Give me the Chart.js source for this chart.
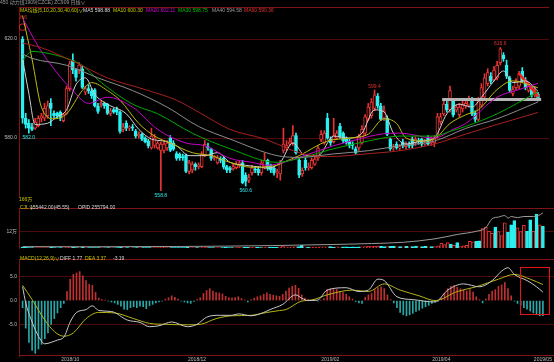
<!DOCTYPE html>
<html>
<head>
<meta charset="utf-8">
<script src="https://cdn.jsdelivr.net/npm/chart.js@4.4.1/dist/chart.umd.min.js"></script>
<style>
  html, body { margin: 0; padding: 0; background: #000; }
  #wrap { position: relative; width: 554px; height: 362px; overflow: hidden; background: #000;
          font-family: 'Liberation Sans', 'Noto Sans CJK SC', sans-serif; }
  #wrap canvas { position: absolute; left: 0; }
  .t { position: absolute; white-space: nowrap; font-size: 5px; line-height: 6px; }
  #macd-box { position: absolute; left: 520px; top: 267px; width: 28px; height: 46px;
              border: 1.5px solid #e81414; }
</style>
</head>
<body>
<div id="wrap">
  <canvas id="price-chart" width="554" height="203" style="top:0"></canvas>
  <canvas id="vol-chart" width="554" height="51" style="top:203px"></canvas>
  <canvas id="macd-chart" width="554" height="108" style="top:254px"></canvas>

  <div class="t" style="left:0;top:-1px;color:#9a9a9a">450 动力煤1909(CZCE) ZC909 日线∨</div>
  <div class="t" style="left:20px;top:7px;color:#c8c800">MA均线(5,10,20,30,40,60)∨</div>
  <div class="t" style="left:83px;top:7px;color:#d8d8d8">MA5 598.88</div>
  <div class="t" style="left:113px;top:7px;color:#c8c800">MA10 600.30</div>
  <div class="t" style="left:146px;top:7px;color:#d400d4">MA20 602.11</div>
  <div class="t" style="left:178px;top:7px;color:#00c000">MA30 598.75</div>
  <div class="t" style="left:212px;top:7px;color:#9a9a9a">MA40 594.58</div>
  <div class="t" style="left:244px;top:7px;color:#e03030">MA60 590.36</div>
  <div class="t" style="left:20px;top:13.5px;color:#e03030">8.6</div>

  <div class="t" style="left:19px;top:196px;color:#c8c800">166万</div>
  <div class="t" style="left:20px;top:204px;color:#c8c800">CJL∨</div>
  <div class="t" style="left:30px;top:204px;color:#d8d8d8">155442.00(45.55)</div>
  <div class="t" style="left:78px;top:204px;color:#d8d8d8">OPID 255794.00</div>

  <div class="t" style="left:20px;top:255px;color:#c8c800">MACD(12,26,9)∨</div>
  <div class="t" style="left:60px;top:255px;color:#d8d8d8">DIFF 1.77</div>
  <div class="t" style="left:85px;top:255px;color:#c8c800">DEA 3.37</div>
  <div class="t" style="left:113px;top:255px;color:#d8d8d8">-3.19</div>

  <div id="macd-box"></div>
</div>

<script>
// ---- data (daily bars, Sep 2018 - May 2019) ----
const dateTicks = [15, 55, 97, 132, 164];
const dateLabels = ['2018/10', '2018/12', '2019/02', '2019/04', '2019/05'];
const priceTicks = [580, 620];
const volTicks = [12];
const macdTicks = [5, 0, -5];

const openP = [
  620, 588, 586, 584.5, 584, 585, 588, 588, 589, 594,
  590, 590, 590.5, 587, 590, 600, 611.5, 607.5, 607.5, 608,
  598.5, 600, 599, 599.5, 593, 593.5, 594, 593.7, 590, 591.5,
  591.5, 590.6, 583.5, 586, 584, 584.5, 582.7, 581, 581.6, 580,
  578.8, 576, 577, 576, 575, 575, 576, 580, 578, 573.7,
  573.5, 572.5, 573, 566.5, 567, 569.5, 568.5, 568.5, 573, 576.5,
  575.7, 572, 570, 571.5, 571.8, 568.5, 568, 567.5, 568, 569,
  570, 565, 563, 566, 567.5, 567.5, 566, 568.5, 571, 569,
  567.8, 566, 565.5, 575, 576, 577.5, 578, 581, 571, 565.5,
  571, 568, 568, 569.5, 572, 579.5, 578, 588, 579.6, 578.5,
  580, 584.7, 582, 579.6, 578.8, 577.5, 575.7, 576, 578, 582,
  587.5, 589, 592, 597, 593, 588, 588, 579.6, 576, 577.5,
  576, 578.5, 576.5, 577.5, 579.6, 578, 579, 579.6, 577.5, 580,
  578, 578, 580.8, 586.5, 589.8, 593.7, 591.4, 595, 591.4, 589.5,
  591.8, 593, 593.3, 595.3, 590, 587.5, 593.3, 596.5, 602, 605,
  603.5, 604.3, 610.5, 613.5, 609.5, 604.3, 598, 600.4, 601, 607,
  603.5, 599.2, 600.4, 597.3, 597.7
];
const highP = [
  621, 590, 587.5, 586, 588, 589, 590, 594, 595, 596,
  591, 590.5, 591, 590, 601, 611, 614, 608, 610.5, 609,
  601, 601.5, 600, 600, 594, 595, 594.5, 594, 592, 592,
  592.5, 591, 586, 587, 585, 585.5, 583.5, 582.5, 582, 580.5,
  579.5, 584, 581.5, 579, 578.5, 579, 579, 581, 579, 574.5,
  574, 573.5, 573.5, 571, 570.5, 570, 570, 574.5, 579, 578,
  576, 573, 573, 572.5, 572.5, 569, 568.5, 569.5, 570.5, 571,
  571, 566, 565.5, 569, 568.5, 568.5, 571, 574, 571.5, 569.5,
  568.5, 567.5, 571, 584, 579, 580, 585, 582, 572, 568,
  572, 570, 572, 572.5, 577, 583, 583, 590, 580.5, 588,
  583, 586, 582.5, 580.5, 579.5, 578.5, 576.5, 581.5, 585, 589.5,
  594, 596, 599.4, 598, 594, 593, 589, 580, 577.5, 578.5,
  577.5, 579.5, 578.5, 578.5, 580.5, 580.5, 580, 580, 579.5, 581,
  580.5, 581, 590, 590, 595, 595, 601, 596, 593.5, 594,
  595, 596, 597, 596.5, 591, 596.5, 602, 606, 608, 606.5,
  609, 611, 616.6, 614.5, 611.5, 605, 601, 604, 607, 608.5,
  604.5, 602.5, 601.5, 600.5, 598.5
];
const lowP = [
  586, 584, 582, 583, 583.5, 584.5, 586.5, 587, 588, 585,
  588, 588, 587, 586.5, 589.5, 599, 606, 603, 606, 600,
  597.5, 598, 596, 592.5, 590, 592.5, 592, 589.5, 589, 590,
  589.5, 582, 582.5, 583, 583, 583, 580, 580, 579, 578,
  576, 575.5, 576, 575.5, 558.8, 574, 575, 574.5, 575, 571,
  571, 571, 566, 565.5, 566, 567, 567.5, 568, 572.5, 575,
  571, 571, 569.5, 570, 567.5, 566, 566, 567, 567.5, 568,
  561.5, 560.6, 562, 565, 566, 565, 565, 567.5, 567, 566,
  565, 564, 563, 574, 575, 577, 577, 573.5, 564, 564.5,
  567, 567, 567.5, 569, 571, 578.5, 577.5, 579.5, 577, 578,
  579.5, 580, 578, 577.5, 576, 575.5, 573.5, 575, 577.5, 581,
  587, 588, 591, 592, 587, 587, 581, 575, 575, 575.5,
  575, 576, 575.5, 576, 576, 577, 577.5, 576.5, 577, 577,
  577, 576.5, 580, 585.5, 589, 590.5, 590.5, 588.5, 590.5, 588.5,
  590.5, 592, 592.5, 589, 586.5, 587, 592.5, 595.5, 601, 602,
  603, 603.5, 609.5, 611, 604, 598.5, 597, 599.5, 600, 602.5,
  599.5, 598.5, 596.5, 596.5, 595
];
const closeP = [
  588, 585.5, 584, 583.5, 586.5, 588, 589, 592, 593, 592,
  589, 589, 588, 589.5, 600, 610, 607.5, 604.5, 609.5, 600.5,
  600, 599, 597, 593, 590.8, 594, 593, 590, 591, 590.5,
  590.5, 582.7, 584.5, 584, 584.5, 584, 580.8, 581.5, 579.6, 578.5,
  576.9, 580.8, 580, 578, 577.6, 577.6, 578, 575, 575.5, 571.8,
  572, 572, 566.5, 570, 569.5, 568.5, 569, 573.5, 577.5, 576,
  571.8, 572.5, 572, 571, 568.2, 567, 567, 568.5, 569.5, 570,
  562, 562.5, 564, 568, 567, 566, 570, 571, 568, 567,
  565.9, 566.5, 570, 577.6, 577, 578.5, 581, 574, 565, 567,
  568, 568.5, 571, 571.5, 576, 581.5, 582, 580, 578, 581,
  582, 580.8, 579, 578, 577, 577, 574, 580.5, 583.5, 588.6,
  592.5, 594.5, 597.5, 593, 587.5, 591, 581.5, 575.7, 576.5, 576,
  576.5, 577, 577.5, 577, 577, 579.5, 578.5, 577.5, 578, 577.5,
  579.5, 580, 588.6, 588.6, 593.7, 591.4, 599.2, 589.4, 592.5, 592.5,
  593.3, 594, 595.7, 589.8, 587.5, 595.3, 600.4, 604.3, 606.5, 603,
  607.5, 609.4, 616, 612, 605, 599.2, 599.6, 603, 606, 603.1,
  600.4, 601.2, 597.3, 599.2, 595.7
];

// moving averages, read as [bar index, price]
const ma5Pts = [[0, 612], [2, 598], [4, 585.5], [8, 586], [11, 588.6], [14, 591.4], [17, 601.6], [20, 604.3],
  [23, 597.6], [27, 593.7], [33, 589.8], [37, 583.5], [41, 579.6], [45, 578.8], [49, 576.9], [53, 572.9],
  [58, 572.9], [62, 574.1], [66, 570.2], [71, 569], [76, 568.2], [78, 567.8], [82, 570.2], [86, 578],
  [90, 572.9], [94, 572.9], [99, 580.8], [104, 580], [108, 582], [112, 591.4], [115, 590.6], [118, 582],
  [122, 577.6], [127, 578.8], [131, 580], [135, 589.8], [139, 593.7], [143, 592.5], [146, 596.5],
  [150, 603.1], [153, 607.1], [156, 602.4], [160, 603.1], [164, 598.88]];
const ma10Pts = [[0, 629.5], [3, 612], [6, 592.5], [10, 587.8], [14, 589.8], [19, 599.2], [22, 602.4],
  [27, 599.2], [31, 595.3], [37, 585.9], [42, 580.8], [47, 578], [54, 574.1], [60, 572.9], [66, 570.2],
  [73, 568.2], [81, 569], [83, 570.2], [88, 572.9], [97, 578.8], [104, 580], [110, 581.6], [115, 587.8],
  [119, 585.9], [122, 580], [127, 578.8], [131, 579.6], [136, 585.9], [141, 589.4], [145, 591.4],
  [151, 599.6], [156, 603.1], [161, 601.6], [164, 600.3]];
const ma20Pts = [[0, 628.5], [5, 617], [11, 606.3], [16, 599.2], [21, 594], [27, 596.5], [35, 592.5],
  [43, 583.5], [52, 578], [58, 576.9], [66, 571.8], [73, 570.2], [78, 569], [83, 570.2], [88, 572.2],
  [99, 576.9], [107, 579.6], [114, 581.6], [120, 582], [131, 580], [137, 583.5], [141, 585.9],
  [151, 596.5], [158, 599.6], [164, 602.11]];
const ma30Pts = [[0, 611.5], [3, 615], [7, 614.5], [14, 612.2], [19, 609.4], [24, 603.5], [35, 593.7],
  [43, 589.8], [54, 582], [66, 575.7], [81, 570.2], [88, 571.8], [99, 575.7], [110, 578.8], [120, 580.8],
  [131, 580.8], [136, 582.7], [141, 584.7], [151, 589.8], [164, 598.75]];
const ma40Pts = [[0, 614], [3, 612.2], [14, 609.4], [24, 604.3], [35, 599.2], [46, 592.5], [56, 584.7],
  [66, 579.6], [81, 572.9], [88, 572.2], [99, 573.6], [110, 574.9], [120, 576.9], [131, 578.8],
  [141, 583.9], [151, 587.8], [164, 594.58]];
const ma60Pts = [[0, 618.4], [6, 616.5], [14, 612.2], [17, 610.5], [27, 604.3], [40, 599.2], [49, 595.3],
  [56, 590.5], [66, 583.5], [77, 579.6], [81, 577.6], [88, 574.1], [97, 572.5], [110, 573.7],
  [120, 574.9], [131, 577.6], [141, 581.6], [151, 585.5], [164, 590.36]];

// drawn annotations on the price panel
const supportLine = [[133.5, 595.6], [165, 595.6]];
const trendLine = [[157.8, 606.3], [164.2, 596.7]];
const markerPt = [[0, 624.8]];

// volume (万手) and open interest
const volume = [
  0.6, 0.4, 0.35, 0.3, 0.25, 0.3, 0.25, 0.3, 0.35, 0.4,
  0.25, 0.2, 0.25, 0.2, 0.45, 0.5, 0.45, 0.3, 0.35, 0.4,
  0.3, 0.25, 0.3, 0.35, 0.3, 0.25, 0.2, 0.3, 0.25, 0.2,
  0.25, 0.45, 0.3, 0.25, 0.2, 0.2, 0.3, 0.25, 0.3, 0.25,
  0.3, 0.35, 0.3, 0.25, 0.5, 0.3, 0.3, 0.35, 0.3, 0.35,
  0.3, 0.25, 0.4, 0.35, 0.3, 0.25, 0.3, 0.35, 0.4, 0.3,
  0.35, 0.3, 0.35, 0.3, 0.4, 0.35, 0.3, 0.35, 0.4, 0.35,
  0.5, 0.45, 0.4, 0.45, 0.4, 0.35, 0.5, 0.55, 0.6, 0.55,
  0.6, 0.5, 1.5, 0.9, 0.7, 0.8, 0.9, 1.0, 1.9, 0.8,
  0.7, 0.6, 0.7, 0.6, 0.8, 0.9, 0.8, 1.1, 0.7, 0.8,
  0.7, 0.9, 0.8, 0.7, 0.9, 0.7, 0.8, 0.9, 1.0, 1.2,
  1.1, 1.2, 1.3, 1.2, 1.1, 1.0, 1.2, 1.3, 0.9, 1.0,
  0.9, 1.2, 0.9, 1.0, 1.3, 0.9, 1.0, 1.2, 0.9, 1.1,
  1.0, 1.6, 3.3, 2.5, 3.9, 2.9, 2.0, 3.9, 1.0, 1.5,
  1.9, 4.8, 4.4, 4.7, 5.2, 13.9, 15.0, 12.0, 10.5, 15.0,
  11.7, 9.0, 18.1, 11.3, 16.7, 19.6, 14.4, 11.7, 16.3, 12.0,
  20.2, 12.0, 24.3, 16.7, 15.5
];
const opidPts = [[0, 1.0], [20, 0.9], [50, 1.1], [78, 1.7], [95, 2.4], [110, 3.2], [120, 4.1], [130, 6.6],
  [137, 9.7], [143, 12], [146, 14.5], [148, 21], [150, 22.2], [152, 23.3], [153, 21.4], [154, 22.6],
  [156, 21.8], [158, 22.6], [161, 22.6], [162.6, 23.3], [164, 25.2]];

// MACD(12,26,9)
const macdHist = [
  -1.5, -5.8, -8.8, -10.5, -11.1, -10.2, -9.2, -8.0, -6.8, -5.0,
  -3.8, -2.6, -1.5, -0.6, 1.9, 4.5, 5.5, 5.8, 6.1, 5.2,
  4.2, 3.4, 3.2, 1.7, 0.5, 0.2, 0.1, -0.1, -0.3, -0.5,
  -0.8, -1.2, -1.8, -1.9, -1.5, -1.3, -1.5, -1.2, -1.3, -1.7,
  -1.1, -0.8, -0.5, -0.3, -0.1, 0.3, 0.6, 1.0, 0.7, 0.3,
  -0.1, -0.3, -0.5, -0.6, -0.2, 0.2, 0.6, 1.5, 2.1, 2.5,
  2.0, 1.7, 1.6, 1.4, 0.9, 0.6, 0.5, 0.6, 0.8, 0.4,
  0.1, -0.3, 0.2, 0.5, 0.8, 1.0, 1.3, 1.6, 1.3, 1.1,
  1.0, 0.9, 1.3, 2.0, 2.6, 3.0, 3.2, 2.6, 1.2, 0.5,
  0.2, 0.1, 0.05, -0.1, 0.1, 0.4, 2.3, 2.5, 2.3, 2.4,
  1.9, 1.7, 1.3, 0.8, 0.3, -0.2, -0.5, -0.6, 0.7, 1.2,
  1.5, 2.3, 2.7, 2.9, 2.5, 1.2, 0.2, -0.5, -1.5, -2.5,
  -3.0, -3.2, -3.0, -2.7, -2.3, -2.0, -1.6, -1.3, -1.0, -0.6,
  -0.3, -0.1, 0.5, 1.5, 2.5, 3.0, 3.2, 2.8, 2.5, 2.2,
  2.0, 2.3, 1.8, 0.8, 0.2, -0.5, 0.3, 1.3, 2.0, 2.3,
  3.0, 3.3, 3.8, 2.5, 1.0, -0.1, -0.6, -1.0, -1.5, -1.8,
  -2.2, -2.6, -3.0, -3.2, -3.19
];
const diffPts = [[0, 2.9], [1, -0.5], [3, -4.5], [5, -7.5], [7, -9.1], [9, -8.8], [11, -8.3], [13, -7.7],
  [15, -4.5], [17, -2.5], [20, -1.9], [22, -1.1], [24, -2.1], [28, -2.3], [33, -4.1], [37, -4.6],
  [40, -5.5], [43, -5.3], [47, -4.5], [52, -5.5], [55, -5.0], [58, -3.5], [62, -3.1], [66, -3.1],
  [68, -2.8], [72, -3.2], [76, -2.5], [78, -1.9], [82, -0.8], [86, 1.2], [88, 0.5], [90, 0], [93, 0.1],
  [96, 2.2], [102, 2.7], [106, 1.9], [109, 2.2], [112, 4.5], [114, 4.2], [118, 0.8], [123, 0.2],
  [130, -0.3], [134, 2.2], [139, 3.5], [144, 2.9], [148, 4.2], [151, 6.2], [153, 6.9], [155, 5.5],
  [159, 4.2], [162, 2.9], [164, 1.77]];
const deaPts = [[0, 3.2], [3, 0.2], [7, -4.1], [10, -6.5], [13, -7.5], [16, -6.8], [20, -3.8], [24, -2.5],
  [29, -2.6], [35, -3.8], [40, -4.8], [45, -5.0], [52, -5.1], [56, -5.0], [61, -3.8], [66, -3.2],
  [72, -3.1], [77, -2.5], [81, -2.1], [83, -1.9], [88, -0.1], [91, 0.1], [96, 1.2], [104, 2.2],
  [109, 1.9], [114, 3.5], [119, 2.2], [125, 1.0], [130, 0.0], [137, 1.9], [143, 2.9], [150, 4.5],
  [155, 5.5], [160, 4.5], [164, 3.37]];

// ---- styling ----
const UP = '#e63434';
const DOWN = '#2cf0f0';
const GRID = '#4e0b0b';
const FRAME = '#801414';
const TICK = '#bcbcbc';
const X_MIN = -1.13, X_MAX = 167.5;

Chart.defaults.font.family = "'Liberation Sans', 'Noto Sans CJK SC', sans-serif";
Chart.defaults.font.size = 5;
Chart.defaults.color = TICK;
Chart.defaults.animation = false;
Chart.defaults.plugins.legend.display = false;
Chart.defaults.plugins.tooltip.enabled = false;

const isUp = i => closeP[i] >= openP[i];
const toXY = pts => pts.map(p => ({ x: p[0], y: p[1] }));
const bars = (vals) => vals.map((v, i) => ({ x: i, y: v }));

// top (and optional bottom) separator lines of each panel
const panelFrame = {
  id: 'panelFrame',
  afterDraw(chart, args, opts) {
    const { ctx, chartArea: a } = chart;
    ctx.save();
    ctx.strokeStyle = FRAME;
    ctx.lineWidth = 1;
    ctx.beginPath();
    const top = Math.round(a.top) + 0.5;
    ctx.moveTo(a.left, top); ctx.lineTo(a.right, top);
    if (opts.bottom) {
      const b = Math.round(a.bottom) - 0.5;
      ctx.moveTo(a.left, b); ctx.lineTo(a.right, b);
    }
    ctx.stroke();
    ctx.restore();
  }
};

function xAxis(show) {
  return {
    type: 'linear', min: X_MIN, max: X_MAX, offset: false, display: show, position: 'bottom',
    grid: { display: false, drawTicks: false, offset: false },
    border: { display: false },
    afterBuildTicks: s => { s.ticks = dateTicks.map(v => ({ value: v })); },
    afterFit: s => { s.height = 6; },
    ticks: {
      autoSkip: false, maxRotation: 0, padding: 1, color: TICK,
      callback: v => dateLabels[dateTicks.indexOf(v)] || ''
    }
  };
}

function yAxis(min, max, ticks, fmt, gridColor) {
  return {
    type: 'linear', min, max, position: 'left',
    afterFit: s => { s.width = 19; },
    afterBuildTicks: s => { s.ticks = ticks.map(v => ({ value: v })); },
    grid: { color: gridColor || GRID, drawTicks: false, lineWidth: 1 },
    border: { display: true, color: FRAME, width: 1 },
    ticks: { color: TICK, padding: 2, callback: fmt }
  };
}

function lineSet(pts, color, width, axis) {
  return {
    type: 'line', data: toXY(pts), borderColor: color, borderWidth: width || 1,
    pointRadius: 0, cubicInterpolationMode: 'monotone', fill: false, order: 0,
    yAxisID: axis || 'y'
  };
}

// ---- price panel ----
const priceChart = new Chart(document.getElementById('price-chart'), {
  type: 'bar',
  data: {
    datasets: [
      {
        data: closeP.map((c, i) => ({ x: i, y: [lowP[i], highP[i]] })),
        backgroundColor: ctx => isUp(ctx.dataIndex) ? UP : DOWN,
        barThickness: 1, grouped: false, order: 3
      },
      {
        data: closeP.map((c, i) => ({ x: i, y: [openP[i], c] })),
        backgroundColor: ctx => isUp(ctx.dataIndex) ? '#000' : DOWN,
        borderColor: ctx => isUp(ctx.dataIndex) ? UP : DOWN,
        borderWidth: 1, borderSkipped: false, minBarLength: 1,
        barThickness: 3, grouped: false, order: 2
      },
      lineSet(ma60Pts, '#a82020'),
      lineSet(ma40Pts, '#8c8c8c'),
      lineSet(ma30Pts, '#00a800'),
      lineSet(ma20Pts, '#c800c8'),
      lineSet(ma10Pts, '#bcbc10'),
      lineSet(ma5Pts, '#d0d0d0'),
      lineSet(supportLine, '#b4b4b4', 3),
      lineSet(trendLine, '#ff2020', 2.5),
      {
        type: 'line', data: toXY(markerPt), showLine: false, pointRadius: 3.3,
        pointBorderColor: '#d02828', pointBackgroundColor: 'rgba(0,0,0,0)', pointBorderWidth: 1, order: 0
      }
    ]
  },
  options: {
    responsive: false, devicePixelRatio: 1,
    layout: { padding: { top: 7, left: 0, right: 0, bottom: 0 } },
    scales: {
      x: xAxis(false),
      y: yAxis(556.2, 632.94, priceTicks, v => v.toFixed(1))
    },
    plugins: { panelFrame: {} }
  },
  plugins: [panelFrame]
});

// ---- volume panel ----
new Chart(document.getElementById('vol-chart'), {
  type: 'bar',
  data: {
    datasets: [
      lineSet(opidPts, '#9a9a9a'),
      {
        data: bars(volume),
        backgroundColor: ctx => isUp(ctx.dataIndex) ? '#000' : DOWN,
        borderColor: ctx => isUp(ctx.dataIndex) ? UP : DOWN,
        borderWidth: 1, borderSkipped: 'start', barThickness: 3, grouped: false, order: 2
      }
    ]
  },
  options: {
    responsive: false, devicePixelRatio: 1,
    layout: { padding: 0 },
    scales: {
      x: xAxis(false),
      y: yAxis(0, 28.7, volTicks, v => v + '万')
    },
    plugins: { panelFrame: {} }
  },
  plugins: [panelFrame]
});

// ---- MACD panel ----
new Chart(document.getElementById('macd-chart'), {
  type: 'bar',
  data: {
    datasets: [
      lineSet(diffPts, '#c8c8c8'),
      lineSet(deaPts, '#b4b414'),
      {
        data: bars(macdHist),
        backgroundColor: ctx => (macdHist[ctx.dataIndex] >= 0 ? '#c03030' : '#2aa8a8'),
        barThickness: 1, grouped: false, order: 2
      }
    ]
  },
  options: {
    responsive: false, devicePixelRatio: 1,
    layout: { padding: 0 },
    scales: {
      x: xAxis(true),
      y: yAxis(-11.66, 8.74, macdTicks, v => v.toFixed(1),
        ctx => (ctx.tick && ctx.tick.value === 0 ? 'rgba(0,0,0,0)' : GRID))
    },
    plugins: { panelFrame: { bottom: true } }
  },
  plugins: [panelFrame]
});

// ---- high / low price labels, placed from the price scales ----
const priceExtremes = [
  { i: 2, kind: 'low' },
  { i: 44, kind: 'low' },
  { i: 71, kind: 'low' },
  { i: 112, kind: 'high' },
  { i: 152, kind: 'high' }
];
const wrap = document.getElementById('wrap');
priceExtremes.forEach(e => {
  const value = e.kind === 'low' ? lowP[e.i] : highP[e.i];
  const px = priceChart.scales.x.getPixelForValue(e.i);
  const py = priceChart.scales.y.getPixelForValue(value);
  const el = document.createElement('div');
  el.className = 't';
  el.textContent = value.toFixed(1);
  el.style.color = e.kind === 'low' ? DOWN : UP;
  el.style.left = px + 'px';
  el.style.top = (e.kind === 'low' ? py + 1 : py - 7) + 'px';
  el.style.transform = 'translateX(-50%)';
  wrap.appendChild(el);
});
</script>
</body>
</html>
